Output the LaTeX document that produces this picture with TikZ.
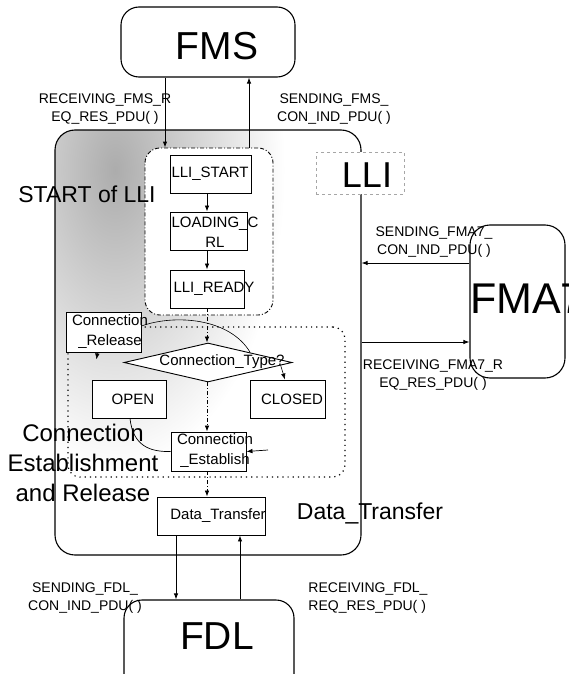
\documentclass[tikz,border=0pt]{standalone}
\usepackage{fontspec}
\setmainfont{Liberation Sans}
\usetikzlibrary{shapes.geometric,arrows.meta,calc}
\begin{document}
\begin{tikzpicture}[x=1pt,y=-1pt,
  tip/.style={-{Latex[length=6pt,width=4.5pt]}},
  bigbox/.style={draw,line width=1.1pt,rounded corners=18pt,inner sep=0pt},
  sbox/.style={draw,line width=0.9pt,fill=white,inner sep=0pt},
  lbl/.style={font=\fontsize{14}{18}\selectfont,align=center,inner sep=0pt},
  stxt/.style={font=\fontsize{15}{20}\selectfont,align=center,inner sep=0pt},
  hugetxt/.style={font=\fontsize{39}{39}\selectfont,inner sep=0pt},
  largetxt/.style={font=\fontsize{23}{30}\selectfont,align=center,inner sep=0pt},
  ddash/.style={dash pattern=on 4pt off 2pt on 1pt off 2pt,line width=0.7pt},
  conn/.style={line width=0.9pt},
]
\useasboundingbox (0,0) rectangle (568,674);
\clip (0,0) rectangle (568,674);

% shading of the LLI top-left area
\begin{scope}
  \clip[rounded corners=20pt] (55,130) rectangle (361,555);
  \shade[inner color=gray!65, outer color=white] (115,170) ellipse (170 and 300);
\end{scope}

% main boxes
\node[bigbox, minimum width=174pt, minimum height=70pt] (fms) at (208,42) {};
\node[bigbox, rounded corners=20pt, minimum width=306pt, minimum height=425pt] (lli) at (208,342.5) {};
\node[draw, fill=white, ddash, line width=0.9pt, rounded corners=15pt, inner sep=0pt,
      minimum width=128pt, minimum height=167pt] (dd) at (209,231.5) {};
\node[draw=gray!70, fill=white, dashed, line width=0.8pt, inner sep=0pt,
      minimum width=88pt, minimum height=42pt] (lbox) at (360,173) {};
\node[bigbox, rounded corners=20pt, fill=white, minimum width=95pt, minimum height=153pt] (fma) at (517.5,301.5) {};
\node[bigbox, minimum width=170pt, minimum height=110pt] (fdl) at (209,655) {};

% dotted sub-state region
\node[draw, line width=1.2pt, dash pattern=on 1.2pt off 4pt, rounded corners=12pt, inner sep=0pt,
      minimum width=277pt, minimum height=150pt] (dot) at (206.5,402) {};

% state boxes
\node[sbox, minimum width=81pt, minimum height=38pt] (lstart) at (210.5,174) {};
\node[sbox, minimum width=77pt, minimum height=38pt] (load) at (208.5,231) {};
\node[sbox, minimum width=74pt, minimum height=38pt] (ready) at (207,289) {};
\node[sbox, minimum width=75pt, minimum height=40pt] (rel) at (103.5,332) {};
\node[draw, fill=white, line width=0.9pt, diamond, inner sep=0pt,
      minimum width=168pt, minimum height=39pt] (dia) at (208,362.5) {};
\node[sbox, minimum width=74pt, minimum height=38pt] (open) at (129,399) {};
\node[sbox, minimum width=75pt, minimum height=38pt] (closed) at (287.5,399) {};
\node[sbox, minimum width=75pt, minimum height=39pt] (est) at (208.5,451.5) {};
\node[sbox, minimum width=108pt, minimum height=38pt] (dt) at (211,516) {};

% helper coordinates
\coordinate (xl) at (165,0);
\coordinate (xr) at (249,0);
\coordinate (ys) at (0,263);
\coordinate (yr) at (0,342);
\coordinate (xfl) at (176,0);
\coordinate (xfr) at (240,0);
\coordinate (xc) at (207,0);
\coordinate (xcl) at (285,0);
\coordinate (xo) at (130,0);
\coordinate (ce) at (268,450);

% external connectors
\draw[conn,tip] (fms.south -| xl) -- (dd.north -| xl);
\draw[conn,tip] (dd.north -| xr) -- (fms.south -| xr);
\draw[conn,tip] (fma.west |- ys) -- (lli.east |- ys);
\draw[conn,tip] (lli.east |- yr) -- (fma.west |- yr);
\draw[conn,tip] (dt.south -| xfl) -- (fdl.north -| xfl);
\draw[conn,tip] (fdl.north -| xfr) -- (dt.south -| xfr);

% internal connectors
\draw[line width=0.8pt,tip] (lstart.south -| xc) -- (load.north -| xc);
\draw[line width=0.8pt,tip] (load.south -| xc) -- (ready.north -| xc);
\draw[ddash,tip] (ready.south -| xc) -- (dia.north -| xc);
\draw[ddash,tip] (dia.south -| xc) -- (est.north -| xc);
\draw[ddash,tip] (est.south -| xc) -- (dt.north -| xc);
\draw[line width=0.6pt] (dia.north east) .. controls (230,318) and (175,314) .. ([yshift=6pt]rel.east);
\draw[line width=0.6pt,tip] ([xshift=-6pt]rel.south) -- ++(-1,7);
\draw[line width=0.6pt,tip] ($(dia.east)!0.14!(dia.south)$) -- (closed.north -| xcl);
\draw[line width=0.7pt] (open.south -| xo) .. controls (133,446) and (150,452) .. (est.west);
\draw[line width=0.7pt,tip] (ce) -- (est.east);

% big texts
\node[hugetxt] (tfms) at (217,46) {FMS};
\node[hugetxt, font=\fontsize{43}{43}\selectfont, anchor=west] (tfma) at (470,299) {FMA7};
\node[hugetxt] (tfdl) at (217,636) {FDL};
\node[font=\fontsize{36}{36}\selectfont, inner sep=0pt] (tlli) at (367,175) {LLI};
\node[largetxt] (tstart) at (87,194) {START of LLI};
\node[largetxt, font=\fontsize{24}{30}\selectfont] (tceb) at (83,463) {Connection\\Establishment\\and Release};
\node[largetxt] (tdt) at (370,513) {Data\_Transfer};

% state texts
\node[stxt] (tlstart) at (210,174) {LLI\_START};
\node[stxt] (tload) at (215,232) {LOADING\_C\\RL};
\node[stxt] (tready) at (214,289) {LLI\_READY};
\node[stxt] (trel) at (110,332) {Connection\\\_Release};
\node[stxt] (tdia) at (222,362) {Connection\_Type?};
\node[stxt] (topen) at (133,399) {OPEN};
\node[stxt] (tclosed) at (292,399) {CLOSED};
\node[stxt] (test) at (215,451) {Connection\\\_Establish};
\node[stxt] (tdtb) at (218,516) {Data\_Transfer};

% connector labels
\node[lbl] (l1) at (105,109) {RECEIVING\_FMS\_R\\EQ\_RES\_PDU(~)};
\node[lbl] (l2) at (334,109) {SENDING\_FMS\_\\CON\_IND\_PDU(~)};
\node[lbl] (l3) at (434,242) {SENDING\_FMA7\_\\CON\_IND\_PDU(~)};
\node[lbl] (l4) at (433,375) {RECEIVING\_FMA7\_R\\EQ\_RES\_PDU(~)};
\node[lbl] (l5) at (85,598) {SENDING\_FDL\_\\CON\_IND\_PDU(~)};
\node[lbl, align=left] (l6) at (368,598) {RECEIVING\_FDL\_\\REQ\_RES\_PDU(~)};
\end{tikzpicture}
\end{document}
